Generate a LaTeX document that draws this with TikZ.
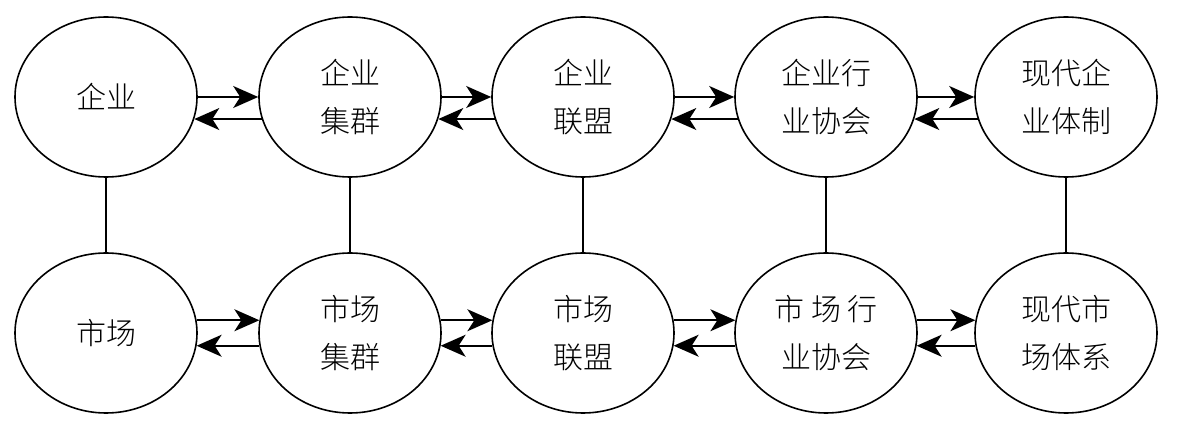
\documentclass[tikz,border=0pt]{standalone}
\usepackage{fontspec}
\setmainfont{Noto Sans CJK SC Light}
\usetikzlibrary{arrows.meta, shapes.geometric}

\begin{document}
\begin{tikzpicture}[x=1pt, y=-1pt,
    oval/.style={ellipse, draw, line width=1.6pt, minimum width=182pt,
                 minimum height=160pt, inner sep=0pt, align=center,
                 font=\fontsize{30}{48}\selectfont},
    arr/.style={-{Stealth[length=25pt, width=22pt, inset=7pt]}, line width=1.6pt},
    link/.style={line width=1.6pt}
]
    \useasboundingbox (0,0) rectangle (1179,430);
    % top row
    \node[oval] (qy)   at (106,97)  {企业};
    \node[oval] (qyjq) at (350,97)  {企业\\集群};
    \node[oval] (qylm) at (583,97)  {企业\\联盟};
    \node[oval] (qyhx) at (826,97)  {企业行\\业协会};
    \node[oval] (qytz) at (1066,97) {现代企\\业体制};
    % bottom row
    \node[oval] (sc)   at (106,333)  {市场};
    \node[oval] (scjq) at (350,333)  {市场\\集群};
    \node[oval] (sclm) at (583,333)  {市场\\联盟};
    \node[oval] (schx) at (826,333)  {市 场 行\\业协会};
    \node[oval] (sctx) at (1066,333) {现代市\\场体系};
    \draw[arr] (qy.east) -- (qyjq.west);
    \draw[arr] (qyjq.194) -- (qy.-14);
    \draw[arr] (qyjq.east) -- (qylm.west);
    \draw[arr] (qylm.194) -- (qyjq.-14);
    \draw[arr] (qylm.east) -- (qyhx.west);
    \draw[arr] (qyhx.194) -- (qylm.-14);
    \draw[arr] (qyhx.east) -- (qytz.west);
    \draw[arr] (qytz.194) -- (qyhx.-14);
    \draw[arr] (sc.8) -- (scjq.172);
    \draw[arr] (scjq.188) -- (sc.-8);
    \draw[arr] (scjq.8) -- (sclm.172);
    \draw[arr] (sclm.188) -- (scjq.-8);
    \draw[arr] (sclm.8) -- (schx.172);
    \draw[arr] (schx.188) -- (sclm.-8);
    \draw[arr] (schx.8) -- (sctx.172);
    \draw[arr] (sctx.188) -- (schx.-8);
    \draw[link] (qy) -- (sc);
    \draw[link] (qyjq) -- (scjq);
    \draw[link] (qylm) -- (sclm);
    \draw[link] (qyhx) -- (schx);
    \draw[link] (qytz) -- (sctx);
\end{tikzpicture}
\end{document}
